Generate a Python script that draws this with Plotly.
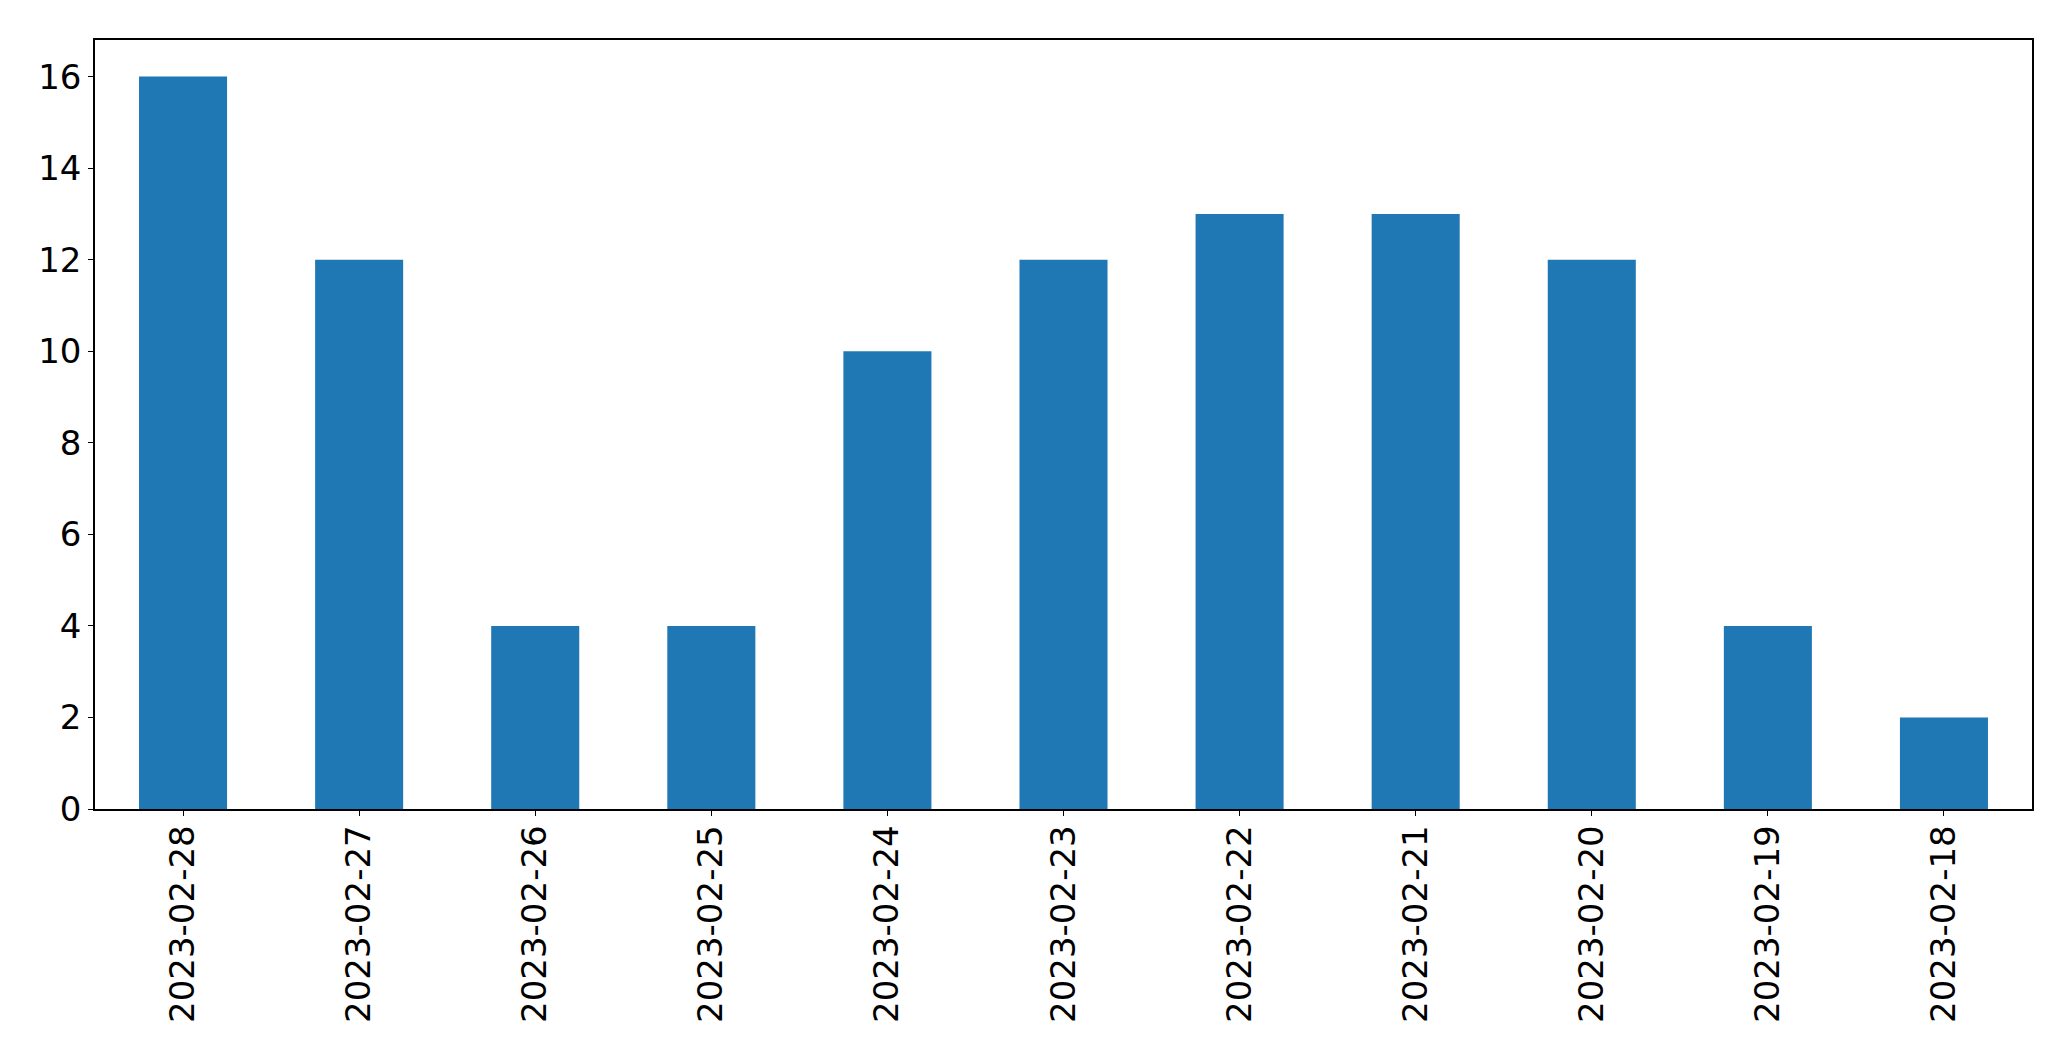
import plotly.graph_objects as go

dates = ["2023-02-28", "2023-02-27", "2023-02-26", "2023-02-25", "2023-02-24",
         "2023-02-23", "2023-02-22", "2023-02-21", "2023-02-20", "2023-02-19", "2023-02-18"]
counts = [16, 12, 4, 4, 10, 12, 13, 13, 12, 4, 2]
y_ticks = [0, 2, 4, 6, 8, 10, 12, 14, 16]

fig = go.Figure(go.Bar(x=dates, y=counts, width=0.5, marker=dict(color="#1f77b4", line=dict(width=0))))

fig.update_layout(
    width=2071, height=1061,
    margin=dict(l=94.5, r=39, t=39.5, b=252),
    plot_bgcolor="white", paper_bgcolor="white",
    font=dict(family="DejaVu Sans", size=34, color="black"),
    showlegend=False,
)
fig.update_xaxes(type="category", range=[-0.5, 10.5], tickangle=-90,
                 showline=True, linecolor="black", linewidth=1.5, mirror=True,
                 ticks="outside", ticklen=5, tickwidth=1.2, tickcolor="black",
                 showgrid=False, zeroline=False, ticklabelstandoff=-4)
fig.update_yaxes(range=[0, 16.8], tickvals=y_ticks,
                 showline=True, linecolor="black", linewidth=1.5, mirror=True,
                 ticks="outside", ticklen=5, tickwidth=1.2, tickcolor="black",
                 showgrid=False, zeroline=False, ticklabelstandoff=0)

fig.write_html("out.html", config={"displayModeBar": False},
               post_script="document.body.style.margin='0';document.body.style.overflow='hidden';")
